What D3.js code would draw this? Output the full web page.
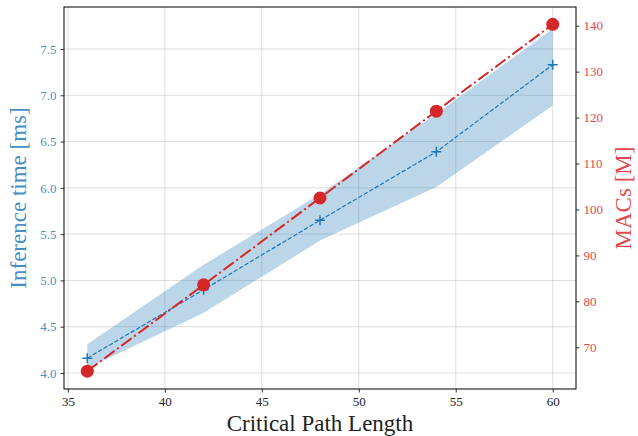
<!DOCTYPE html>
<html>
<head>
<meta charset="utf-8">
<script src="https://cdn.jsdelivr.net/npm/d3@7"></script>
<style>
  html, body { margin: 0; padding: 0; background: #fff; }
  svg { display: block; }
  svg text { font-family: "Liberation Serif", "DejaVu Serif", serif; }
</style>
</head>
<body>
<div id="chart"></div>
<script>
// data
const pathLength = [36, 42, 48, 54, 60];
const inferMs = [4.16, 4.90, 5.65, 6.39, 7.33];
const inferLow = [4.05, 4.65, 5.43, 6.01, 6.89];
const inferHigh = [4.31, 5.17, 5.93, 6.80, 7.72];
const macs = [64.8, 83.6, 102.5, 121.4, 140.3];

const xTicks = [35, 40, 45, 50, 55, 60];
const leftTicks = [4.0, 4.5, 5.0, 5.5, 6.0, 6.5, 7.0, 7.5];
const rightTicks = [70, 80, 90, 100, 110, 120, 130, 140];

const blue = "#1f77b4", red = "#d62728";

(() => {
  const width = 638, height = 436;
  const margin = { top: 7, right: 62, bottom: 47, left: 64 };
  const innerW = width - margin.left - margin.right;
  const innerH = height - margin.top - margin.bottom;

  const svg = d3.select("#chart").append("svg")
    .attr("width", width).attr("height", height);
  const g = svg.append("g").attr("transform", `translate(${margin.left},${margin.top})`);

  const x = d3.scaleLinear().domain([34.8, 61.2]).range([0, innerW]);
  const yL = d3.scaleLinear().domain([3.827, 7.954]).range([innerH, 0]);
  const yR = d3.scaleLinear().domain([60.92, 144.07]).range([innerH, 0]);

  // grid
  g.append("g").selectAll("line").data(xTicks).join("line")
    .attr("x1", d => x(d)).attr("x2", d => x(d))
    .attr("y1", 0).attr("y2", innerH)
    .attr("stroke", "#b0b0b0").attr("stroke-opacity", 0.5).attr("stroke-width", 0.8);
  g.append("g").selectAll("line").data(leftTicks).join("line")
    .attr("y1", d => yL(d)).attr("y2", d => yL(d))
    .attr("x1", 0).attr("x2", innerW)
    .attr("stroke", "#b0b0b0").attr("stroke-opacity", 0.5).attr("stroke-width", 0.8);

  // band
  const idx = d3.range(pathLength.length);
  g.append("path")
    .datum(idx)
    .attr("d", d3.area().x(i => x(pathLength[i])).y0(i => yL(inferLow[i])).y1(i => yL(inferHigh[i])))
    .attr("fill", blue).attr("fill-opacity", 0.3);

  // inference line
  g.append("path")
    .datum(idx)
    .attr("d", d3.line().x(i => x(pathLength[i])).y(i => yL(inferMs[i])))
    .attr("fill", "none").attr("stroke", blue).attr("stroke-width", 1.2)
    .attr("stroke-dasharray", "4.4,1.9");
  g.append("g").selectAll("path").data(idx).join("path")
    .attr("transform", i => `translate(${x(pathLength[i])},${yL(inferMs[i])})`)
    .attr("d", "M-5,0H5M0,-5V5")
    .attr("stroke", blue).attr("stroke-width", 1.5);

  // MACs line
  g.append("path")
    .datum(idx)
    .attr("d", d3.line().x(i => x(pathLength[i])).y(i => yR(macs[i])))
    .attr("fill", "none").attr("stroke", red).attr("stroke-width", 2)
    .attr("stroke-dasharray", "12.8,3.2,2,3.2");
  g.append("g").selectAll("circle").data(idx).join("circle")
    .attr("cx", i => x(pathLength[i])).attr("cy", i => yR(macs[i]))
    .attr("r", 6.5).attr("fill", red);

  // axes
  const styleAxis = (sel, color) => {
    sel.attr("font-family", null).attr("font-size", null);
    sel.select(".domain").remove();
    sel.selectAll(".tick line").attr("stroke", "#000").attr("stroke-width", 0.8);
    sel.selectAll(".tick text").attr("fill", color).style("font-size", "13px");
  };
  g.append("g").attr("transform", `translate(0,${innerH})`)
    .call(d3.axisBottom(x).tickValues(xTicks).tickFormat(d3.format("d")).tickSize(3.5).tickPadding(4))
    .call(s => styleAxis(s, "#222"));
  g.append("g")
    .call(d3.axisLeft(yL).tickValues(leftTicks).tickFormat(d3.format(".1f")).tickSize(3.5).tickPadding(4))
    .call(s => styleAxis(s, "#4a8fc4"));
  g.append("g").attr("transform", `translate(${innerW},0)`)
    .call(d3.axisRight(yR).tickValues(rightTicks).tickFormat(d3.format("d")).tickSize(3.5).tickPadding(4))
    .call(s => styleAxis(s, "#e04a4a"));

  // frame
  g.append("rect").attr("width", innerW).attr("height", innerH)
    .attr("fill", "none").attr("stroke", "#000").attr("stroke-width", 1);

  // labels
  svg.append("text")
    .attr("x", margin.left + innerW / 2).attr("y", 431)
    .attr("text-anchor", "middle").attr("fill", "#222").style("font-size", "23px")
    .text("Critical Path Length");
  svg.append("text")
    .attr("transform", `translate(26,${margin.top + innerH / 2}) rotate(-90)`)
    .attr("text-anchor", "middle").attr("fill", "#4a8fc4").style("font-size", "23px")
    .text("Inference time [ms]");
  svg.append("text")
    .attr("transform", `translate(631,${margin.top + innerH / 2}) rotate(-90)`)
    .attr("text-anchor", "middle").attr("fill", "#e04a4a").style("font-size", "23px")
    .text("MACs [M]");
})();
</script>
</body>
</html>
